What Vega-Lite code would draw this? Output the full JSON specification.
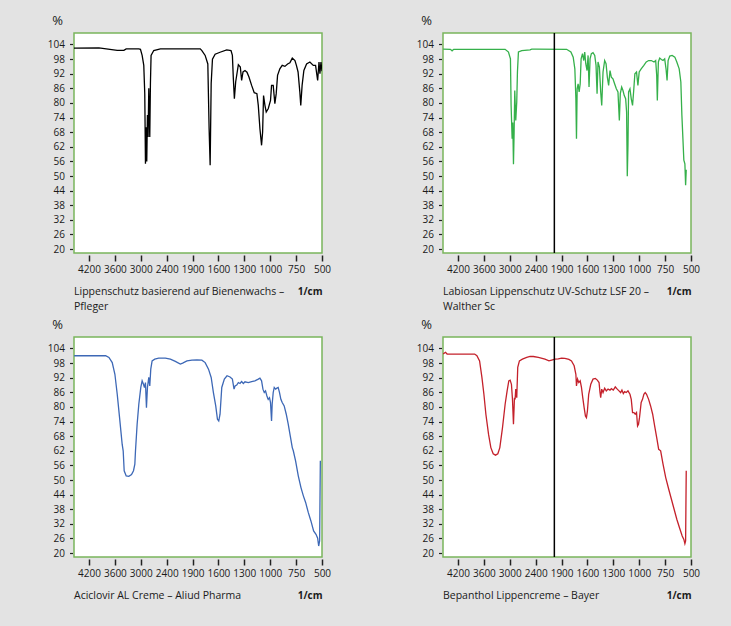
{
  "$schema": "https://vega.github.io/schema/vega-lite/v6.json",
  "background": "#e3e3e3",
  "padding": {"left": 46, "top": 13, "right": 38, "bottom": 30},
  "bounds": "flush",
  "columns": 2,
  "spacing": {"column": 121, "row": 84},
  "datasets": {
    "p1": [
      {"w":4550,"t":102.5},{"w":3970,"t":102.6},{"w":3546,"t":101.6},{"w":3392,"t":101.6},{"w":3339,"t":102.2},{"w":3046,"t":102.2},{"w":3008,"t":102},{"w":2969,"t":99.5},{"w":2931,"t":95.4},{"w":2908,"t":83.8},{"w":2892,"t":55},{"w":2877,"t":70},{"w":2862,"t":56},{"w":2846,"t":75},{"w":2831,"t":66},{"w":2815,"t":86},{"w":2792,"t":66},{"w":2777,"t":88},{"w":2762,"t":99.5},{"w":2700,"t":101.5},{"w":2546,"t":102.2},{"w":1811,"t":102.2},{"w":1792,"t":101.5},{"w":1754,"t":99.5},{"w":1723,"t":96},{"w":1708,"t":69.4},{"w":1696,"t":54.4},{"w":1684,"t":88},{"w":1669,"t":98},{"w":1638,"t":100},{"w":1581,"t":100.8},{"w":1504,"t":101.8},{"w":1454,"t":101.5},{"w":1438,"t":99.5},{"w":1427,"t":90},{"w":1415,"t":81.7},{"w":1400,"t":88.6},{"w":1369,"t":95.7},{"w":1346,"t":94.7},{"w":1331,"t":89.2},{"w":1315,"t":92.7},{"w":1292,"t":93.3},{"w":1269,"t":92.6},{"w":1246,"t":90.6},{"w":1215,"t":87.2},{"w":1185,"t":84.2},{"w":1154,"t":83.8},{"w":1138,"t":79},{"w":1119,"t":69.4},{"w":1100,"t":62.6},{"w":1088,"t":68},{"w":1077,"t":83},{"w":1061,"t":79},{"w":1046,"t":76.3},{"w":1023,"t":77.6},{"w":997,"t":81},{"w":987,"t":87.2},{"w":971,"t":87.2},{"w":955,"t":79.7},{"w":942,"t":83.8},{"w":929,"t":91.3},{"w":907,"t":94},{"w":884,"t":95.4},{"w":858,"t":95},{"w":832,"t":96},{"w":810,"t":96.5},{"w":787,"t":98.4},{"w":761,"t":97.4},{"w":747,"t":95.4},{"w":731,"t":92.7},{"w":714,"t":84.5},{"w":705,"t":79},{"w":692,"t":87.2},{"w":675,"t":93.3},{"w":649,"t":96},{"w":617,"t":96.8},{"w":584,"t":95.4},{"w":562,"t":95.4},{"w":542,"t":89.2},{"w":529,"t":96.8},{"w":520,"t":92},{"w":510,"t":96.8},{"w":500,"t":93}
    ],
    "p2": [
      {"w":4546,"t":102.1},{"w":4377,"t":102},{"w":4338,"t":101.4},{"w":4300,"t":102},{"w":3108,"t":102},{"w":3031,"t":100.9},{"w":2985,"t":98.1},{"w":2970,"t":79},{"w":2946,"t":65.3},{"w":2931,"t":72},{"w":2915,"t":54.8},{"w":2900,"t":68},{"w":2885,"t":85.1},{"w":2862,"t":72.8},{"w":2839,"t":80.4},{"w":2823,"t":92.7},{"w":2800,"t":100.9},{"w":2723,"t":101.5},{"w":2531,"t":101.8},{"w":2492,"t":102.1},{"w":2400,"t":102.1},{"w":1842,"t":102},{"w":1792,"t":100.9},{"w":1765,"t":98.8},{"w":1746,"t":94},{"w":1734,"t":81.7},{"w":1727,"t":65.3},{"w":1719,"t":85.8},{"w":1708,"t":87.8},{"w":1696,"t":84.5},{"w":1684,"t":87.8},{"w":1673,"t":98.1},{"w":1657,"t":100.2},{"w":1642,"t":97.4},{"w":1631,"t":100.9},{"w":1619,"t":96.1},{"w":1604,"t":93.3},{"w":1592,"t":99.5},{"w":1581,"t":86.5},{"w":1569,"t":98.1},{"w":1554,"t":100.2},{"w":1535,"t":100.6},{"w":1515,"t":99.5},{"w":1500,"t":95.4},{"w":1488,"t":83.8},{"w":1477,"t":96.8},{"w":1461,"t":94.7},{"w":1446,"t":84.5},{"w":1434,"t":79},{"w":1419,"t":92.7},{"w":1400,"t":97.4},{"w":1384,"t":96.1},{"w":1369,"t":90.6},{"w":1354,"t":87.2},{"w":1338,"t":93.3},{"w":1323,"t":90.6},{"w":1304,"t":89.9},{"w":1284,"t":87.8},{"w":1265,"t":85.8},{"w":1246,"t":84.5},{"w":1230,"t":72.8},{"w":1219,"t":83.8},{"w":1203,"t":86.5},{"w":1188,"t":85.1},{"w":1173,"t":83},{"w":1157,"t":81.7},{"w":1146,"t":76.3},{"w":1138,"t":49.9},{"w":1130,"t":62.6},{"w":1123,"t":84.5},{"w":1107,"t":85.8},{"w":1092,"t":81.7},{"w":1077,"t":79},{"w":1065,"t":84.5},{"w":1050,"t":92},{"w":1031,"t":92.7},{"w":1015,"t":87.2},{"w":1000,"t":92.7},{"w":981,"t":94},{"w":955,"t":95.4},{"w":932,"t":96.8},{"w":909,"t":97.4},{"w":883,"t":97.4},{"w":857,"t":96.8},{"w":841,"t":97.4},{"w":831,"t":91.3},{"w":825,"t":81},{"w":815,"t":96.8},{"w":802,"t":98.4},{"w":786,"t":97.8},{"w":770,"t":97.4},{"w":754,"t":98.1},{"w":741,"t":94},{"w":731,"t":89.2},{"w":721,"t":97.4},{"w":705,"t":99.2},{"w":682,"t":99.5},{"w":656,"t":98.8},{"w":637,"t":96.8},{"w":614,"t":94},{"w":598,"t":88.6},{"w":588,"t":74.9},{"w":578,"t":65.3},{"w":569,"t":56.5},{"w":559,"t":55},{"w":552,"t":46.2},{"w":546,"t":52.6}
    ],
    "p3": [
      {"w":4546,"t":101},{"w":3815,"t":101},{"w":3738,"t":100.3},{"w":3662,"t":98.2},{"w":3600,"t":93.4},{"w":3546,"t":85.2},{"w":3492,"t":75.6},{"w":3431,"t":64.6},{"w":3408,"t":62},{"w":3385,"t":53.8},{"w":3338,"t":51.7},{"w":3277,"t":51.5},{"w":3215,"t":52.2},{"w":3169,"t":53.8},{"w":3138,"t":56.5},{"w":3123,"t":62},{"w":3085,"t":72.9},{"w":3046,"t":81.1},{"w":3000,"t":88},{"w":2969,"t":90.7},{"w":2938,"t":89.3},{"w":2915,"t":88},{"w":2892,"t":90},{"w":2869,"t":79.7},{"w":2846,"t":88},{"w":2815,"t":92.1},{"w":2792,"t":88.6},{"w":2769,"t":95.5},{"w":2738,"t":98.9},{"w":2677,"t":99.6},{"w":2585,"t":100},{"w":2431,"t":100},{"w":2329,"t":99.6},{"w":2233,"t":98.7},{"w":2137,"t":97.6},{"w":2092,"t":98},{"w":2009,"t":98.9},{"w":1913,"t":99.2},{"w":1850,"t":99.3},{"w":1792,"t":99.2},{"w":1754,"t":98.2},{"w":1715,"t":95.5},{"w":1684,"t":92.1},{"w":1658,"t":85.9},{"w":1631,"t":80.4},{"w":1611,"t":74.9},{"w":1596,"t":74.2},{"w":1581,"t":77},{"w":1561,"t":88},{"w":1531,"t":91.4},{"w":1500,"t":92.8},{"w":1465,"t":92.3},{"w":1438,"t":91.4},{"w":1419,"t":87.3},{"w":1407,"t":88.6},{"w":1388,"t":89},{"w":1369,"t":90},{"w":1350,"t":89.6},{"w":1331,"t":90.4},{"w":1311,"t":89.6},{"w":1292,"t":90.3},{"w":1254,"t":90},{"w":1215,"t":90.4},{"w":1177,"t":90.7},{"w":1138,"t":91.4},{"w":1119,"t":91.8},{"w":1100,"t":90.7},{"w":1084,"t":87.3},{"w":1069,"t":85.9},{"w":1054,"t":86.6},{"w":1038,"t":84.5},{"w":1023,"t":83.1},{"w":1008,"t":83.8},{"w":997,"t":81.8},{"w":987,"t":74.2},{"w":981,"t":81.1},{"w":971,"t":85.9},{"w":961,"t":88},{"w":948,"t":87.3},{"w":935,"t":87.7},{"w":923,"t":88},{"w":910,"t":85.9},{"w":897,"t":83.1},{"w":884,"t":81.8},{"w":865,"t":80.4},{"w":845,"t":77},{"w":826,"t":72.9},{"w":806,"t":68},{"w":787,"t":63.3},{"w":777,"t":62},{"w":755,"t":57.9},{"w":729,"t":51.7},{"w":703,"t":46.9},{"w":680,"t":43.5},{"w":658,"t":40.8},{"w":632,"t":36.6},{"w":607,"t":33.2},{"w":581,"t":29.1},{"w":558,"t":27.7},{"w":542,"t":26.1},{"w":532,"t":22.9},{"w":523,"t":25},{"w":516,"t":57.9}
    ],
    "p4": [
      {"w":4546,"t":101.7},{"w":4492,"t":102.4},{"w":4454,"t":101.7},{"w":3815,"t":101.7},{"w":3762,"t":101},{"w":3700,"t":98.9},{"w":3646,"t":92.1},{"w":3600,"t":85.2},{"w":3554,"t":77},{"w":3492,"t":68.7},{"w":3439,"t":63.3},{"w":3385,"t":60.8},{"w":3331,"t":60.2},{"w":3277,"t":60.8},{"w":3231,"t":63.3},{"w":3169,"t":71.5},{"w":3108,"t":81.1},{"w":3062,"t":86.6},{"w":3023,"t":90.7},{"w":2992,"t":91},{"w":2962,"t":89.3},{"w":2938,"t":83.1},{"w":2915,"t":72.9},{"w":2892,"t":83.8},{"w":2877,"t":83.1},{"w":2862,"t":87.3},{"w":2839,"t":83.8},{"w":2816,"t":96.2},{"w":2777,"t":98.9},{"w":2708,"t":99.6},{"w":2608,"t":100.3},{"w":2531,"t":100.7},{"w":2454,"t":100.7},{"w":2349,"t":100.3},{"w":2221,"t":99.6},{"w":2144,"t":98.9},{"w":2092,"t":99.2},{"w":2028,"t":99.6},{"w":1964,"t":99.7},{"w":1900,"t":100},{"w":1862,"t":99.9},{"w":1815,"t":99.5},{"w":1785,"t":98.9},{"w":1754,"t":96.9},{"w":1734,"t":93.4},{"w":1727,"t":88.6},{"w":1715,"t":91.4},{"w":1700,"t":90},{"w":1684,"t":90.7},{"w":1669,"t":88},{"w":1654,"t":83.8},{"w":1638,"t":79.7},{"w":1623,"t":76.3},{"w":1611,"t":75.6},{"w":1600,"t":78.3},{"w":1585,"t":85.2},{"w":1561,"t":89.3},{"w":1535,"t":91.4},{"w":1508,"t":91.7},{"w":1485,"t":91},{"w":1465,"t":90},{"w":1454,"t":85.9},{"w":1446,"t":83.8},{"w":1434,"t":87.3},{"w":1419,"t":85.9},{"w":1400,"t":87.7},{"w":1381,"t":86.6},{"w":1361,"t":87.3},{"w":1338,"t":86.9},{"w":1323,"t":87.5},{"w":1300,"t":86.9},{"w":1277,"t":88.2},{"w":1254,"t":87.3},{"w":1234,"t":86.6},{"w":1215,"t":85.9},{"w":1200,"t":86.9},{"w":1184,"t":85.5},{"w":1169,"t":86.3},{"w":1150,"t":85.9},{"w":1130,"t":86.6},{"w":1107,"t":85.2},{"w":1092,"t":83.1},{"w":1077,"t":77.7},{"w":1061,"t":77.7},{"w":1046,"t":77},{"w":1031,"t":77.7},{"w":1019,"t":72.2},{"w":1008,"t":72.9},{"w":997,"t":75.6},{"w":981,"t":81.8},{"w":968,"t":83.1},{"w":955,"t":85.2},{"w":942,"t":85.9},{"w":929,"t":85.2},{"w":909,"t":83.1},{"w":890,"t":80.4},{"w":870,"t":77},{"w":851,"t":72.2},{"w":831,"t":67.4},{"w":812,"t":62.6},{"w":793,"t":62},{"w":770,"t":56.5},{"w":744,"t":51},{"w":715,"t":46.2},{"w":689,"t":42.1},{"w":663,"t":38},{"w":637,"t":33.9},{"w":611,"t":30.4},{"w":585,"t":27},{"w":569,"t":25.6},{"w":559,"t":23.9},{"w":552,"t":25},{"w":546,"t":53.8}
    ]
  },
  "concat": [
    {
      "width": 248, "height": 220,
      "title": {"text": ["Lippenschutz basierend auf Bienenwachs –", "Pfleger"]},
      "layer": [
        {"data": {"name": "p1"}, "mark": {"type": "line", "color": "#000000", "strokeWidth": 1.3, "clip": true},
         "encoding": {
           "x": {"field": "w", "type": "quantitative", "scale": {"domain": [4550,4200,3600,3000,2400,1900,1600,1300,1000,750,500], "range": [0,15,40.9,66.8,92.7,118.6,144.4,170.3,196.2,222.1,248], "zero": false, "nice": false}, "axis": {"title": "1/cm", "values": [4200,3600,3000,2400,1900,1600,1300,1000,750,500], "format": "d"}},
           "y": {"field": "t", "type": "quantitative", "scale": {"domain": [18.4,108.7], "zero": false, "nice": false}, "axis": {"title": "%", "values": [20,26,32,38,44,50,56,62,68,74,80,86,92,98,104], "format": "d"}}
         }}
      ]
    },
    {
      "width": 248, "height": 220,
      "title": {"text": ["Labiosan Lippenschutz UV-Schutz LSF 20 –", "Walther Sc"]},
      "layer": [
        {"data": {"name": "p2"}, "mark": {"type": "line", "color": "#35b04a", "strokeWidth": 1.3, "clip": true},
         "encoding": {
           "x": {"field": "w", "type": "quantitative", "scale": {"domain": [4550,4200,3600,3000,2400,1900,1600,1300,1000,750,500], "range": [0,15,40.9,66.8,92.7,118.6,144.4,170.3,196.2,222.1,248], "zero": false, "nice": false}, "axis": {"title": "1/cm", "values": [4200,3600,3000,2400,1900,1600,1300,1000,750,500], "format": "d"}},
           "y": {"field": "t", "type": "quantitative", "scale": {"domain": [18.4,108.7], "zero": false, "nice": false}, "axis": {"title": "%", "values": [20,26,32,38,44,50,56,62,68,74,80,86,92,98,104], "format": "d"}}
         }},
        {"data": {"values": [{"w": 2040}]}, "mark": {"type": "rule", "color": "#000000", "strokeWidth": 1.5},
         "encoding": {"x": {"field": "w", "type": "quantitative", "axis": {"title": "1/cm", "values": [4200,3600,3000,2400,1900,1600,1300,1000,750,500], "format": "d"}}}}
      ]
    },
    {
      "width": 248, "height": 220,
      "title": {"text": ["Aciclovir AL Creme – Aliud Pharma"]},
      "layer": [
        {"data": {"name": "p3"}, "mark": {"type": "line", "color": "#3d68b6", "strokeWidth": 1.3, "clip": true},
         "encoding": {
           "x": {"field": "w", "type": "quantitative", "scale": {"domain": [4550,4200,3600,3000,2400,1900,1600,1300,1000,750,500], "range": [0,15,40.9,66.8,92.7,118.6,144.4,170.3,196.2,222.1,248], "zero": false, "nice": false}, "axis": {"title": "1/cm", "values": [4200,3600,3000,2400,1900,1600,1300,1000,750,500], "format": "d"}},
           "y": {"field": "t", "type": "quantitative", "scale": {"domain": [18.4,108.7], "zero": false, "nice": false}, "axis": {"title": "%", "values": [20,26,32,38,44,50,56,62,68,74,80,86,92,98,104], "format": "d"}}
         }}
      ]
    },
    {
      "width": 248, "height": 220,
      "title": {"text": ["Bepanthol Lippencreme – Bayer"]},
      "layer": [
        {"data": {"name": "p4"}, "mark": {"type": "line", "color": "#c4212b", "strokeWidth": 1.3, "clip": true},
         "encoding": {
           "x": {"field": "w", "type": "quantitative", "scale": {"domain": [4550,4200,3600,3000,2400,1900,1600,1300,1000,750,500], "range": [0,15,40.9,66.8,92.7,118.6,144.4,170.3,196.2,222.1,248], "zero": false, "nice": false}, "axis": {"title": "1/cm", "values": [4200,3600,3000,2400,1900,1600,1300,1000,750,500], "format": "d"}},
           "y": {"field": "t", "type": "quantitative", "scale": {"domain": [18.4,108.7], "zero": false, "nice": false}, "axis": {"title": "%", "values": [20,26,32,38,44,50,56,62,68,74,80,86,92,98,104], "format": "d"}}
         }},
        {"data": {"values": [{"w": 2040}]}, "mark": {"type": "rule", "color": "#000000", "strokeWidth": 1.5},
         "encoding": {"x": {"field": "w", "type": "quantitative", "axis": {"title": "1/cm", "values": [4200,3600,3000,2400,1900,1600,1300,1000,750,500], "format": "d"}}}}
      ]
    }
  ],
  "config": {
    "font": "Open Sans",
    "view": {"fill": "#ffffff", "stroke": "#7ab55c", "strokeWidth": 1.5},
    "title": {"orient": "bottom", "anchor": "start", "frame": "group", "fontSize": 10.5, "fontWeight": "normal", "font": "Open Sans", "color": "#1a1a1a", "lineHeight": 15.5, "offset": -10, "baseline": "top"},
    "axis": {"grid": false, "domain": false, "labelFont": "Open Sans", "labelFontSize": 10, "labelColor": "#1a1a1a", "tickColor": "#222222", "titleFont": "Open Sans", "titleColor": "#1a1a1a", "labelOverlap": false, "labelFlush": false},
    "axisX": {"offset": 2, "tickSize": 6, "tickWidth": 1.5, "labelPadding": 3, "titleX": 248, "titleY": 36.7, "titleAlign": "right", "titleBaseline": "middle", "titleFontWeight": "bold", "titleFontSize": 10, "titleAnchor": null},
    "axisY": {"offset": 1.5, "tickSize": 3, "tickWidth": 1.2, "labelPadding": 5, "titleAngle": 0, "titleX": -15.5, "titleY": -12.5, "titleAlign": "center", "titleBaseline": "middle", "titleFontSize": 13, "titleFontWeight": "normal", "titleAnchor": null}
  }
}
